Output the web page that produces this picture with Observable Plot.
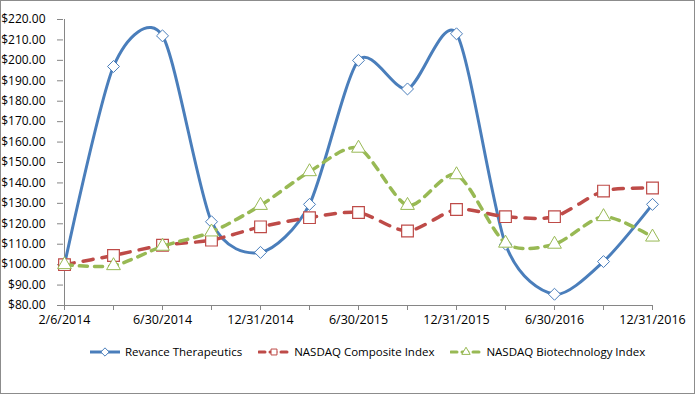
<!DOCTYPE html>
<html>
<head>
<meta charset="utf-8">
<script src="https://cdn.jsdelivr.net/npm/d3@7"></script>
<script src="https://cdn.jsdelivr.net/npm/@observablehq/plot@0.6"></script>
<style>
  html, body { margin: 0; padding: 0; background: #fff; }
  #chart { position: relative; width: 695px; height: 394px; box-sizing: border-box; border: 1px solid #8c8c8c; background: #fff; font-family: "Open Sans", "Liberation Sans", sans-serif; }
  #legend { position: absolute; left: 88px; top: 343px; display: flex; justify-content: flex-start; align-items: center; font-size: 11.5px; color: #000; white-space: nowrap; }
  .item { display: flex; align-items: center; margin-right: 16px; }
  .item svg { margin-right: 4px; }
</style>
</head>
<body>
<div id="chart"><div id="legend"></div></div>
<script>
const dates = ["2/6/2014","3/31/2014","6/30/2014","9/30/2014","12/31/2014","3/31/2015","6/30/2015","9/30/2015","12/31/2015","3/31/2016","6/30/2016","9/30/2016","12/31/2016"];
const xLabels = ["2/6/2014","6/30/2014","12/31/2014","6/30/2015","12/31/2015","6/30/2016","12/31/2016"];
const revance = [100, 197, 212, 121, 106, 129.5, 200, 186, 213, 110, 85.5, 101.5, 129.5];
const composite = [100, 104.5, 109.5, 112, 118.5, 123, 125.5, 116.5, 127, 123.5, 123.5, 136, 137.5];
const biotech = [100, 99.5, 109, 116, 129, 145.5, 157, 129, 144, 110.5, 110, 123.5, 113.5];
const yTicks = [80, 90, 100, 110, 120, 130, 140, 150, 160, 170, 180, 190, 200, 210, 220];
const seriesNames = ["Revance Therapeutics", "NASDAQ Composite Index", "NASDAQ Biotechnology Index"];
const colors = ["#4a7ebb", "#be4b48", "#98b954"];

const toRows = (vals) => dates.map((d, i) => ({date: d, value: vals[i]}));
const rRev = toRows(revance), rComp = toRows(composite), rBio = toRows(biotech);

const axisColor = "#868686";
const curve = d3.curveCardinal.tension(0.2);
const plot = Plot.plot({
  width: 693,
  height: 330,
  marginLeft: 62,
  marginRight: 42,
  marginTop: 18,
  marginBottom: 26,
  style: {fontFamily: "'Open Sans', 'Liberation Sans', sans-serif", fontSize: "12px", color: "#000", background: "transparent", overflow: "visible"},
  x: {type: "point", domain: dates, padding: 0, label: null},
  y: {domain: [80, 220], label: null},
  marks: [
    Plot.ruleY([80], {stroke: axisColor, strokeWidth: 1}),
    Plot.ruleX([dates[0]], {stroke: axisColor, strokeWidth: 1}),
    Plot.axisY({ticks: yTicks, tickSize: 6, tickFormat: d3.format("$,.2f"), stroke: axisColor, tickPadding: 12, fill: "#000", fontSize: 12, label: null}),
    Plot.axisX({ticks: dates, tickSize: 5, tickFormat: d => xLabels.includes(d) ? d : "", stroke: axisColor, tickPadding: 5, fill: "#000", fontSize: 12.5, label: null}),
    Plot.line(rRev, {x: "date", y: "value", stroke: colors[0], strokeWidth: 3, curve}),
    Plot.dot(rRev, {x: "date", y: "value", symbol: "diamond2", r: 5.4, fill: "#fff", stroke: colors[0], strokeWidth: 1}),
    Plot.line(rComp, {x: "date", y: "value", stroke: colors[1], strokeWidth: 3.5, strokeDasharray: "10,9", strokeLinecap: "round", curve}),
    Plot.dot(rComp, {x: "date", y: "value", symbol: "square", r: 6.6, fill: "#fff", stroke: colors[1], strokeWidth: 1.2}),
    Plot.line(rBio, {x: "date", y: "value", stroke: colors[2], strokeWidth: 3.5, strokeDasharray: "8,7", strokeLinecap: "round", curve}),
    Plot.dot(rBio, {x: "date", y: "value", symbol: "triangle2", r: 6.6, fill: "#fff", stroke: colors[2], strokeWidth: 1})
  ]
});
document.getElementById("chart").prepend(plot);

// legend
const legend = d3.select("#legend");
const symbols = [d3.symbolDiamond2, d3.symbolSquare, d3.symbolTriangle2];
const sizes = [80, 64, 90];
const dashes = [null, "6,5", "6,5"];
seriesNames.forEach((name, i) => {
  const item = legend.append("div").attr("class", "item");
  const s = item.append("svg").attr("width", 32).attr("height", 14);
  s.append("line").attr("x1", 1).attr("x2", 31).attr("y1", 7).attr("y2", 7)
    .attr("stroke", colors[i]).attr("stroke-width", 3).attr("stroke-dasharray", dashes[i]).attr("stroke-linecap", i ? "round" : "butt");
  s.append("path").attr("transform", "translate(16,7)").attr("d", d3.symbol(symbols[i], sizes[i] * 0.55)())
    .attr("fill", "#fff").attr("stroke", colors[i]).attr("stroke-width", 1);
  item.append("span").text(name);
});
</script>
</body>
</html>
